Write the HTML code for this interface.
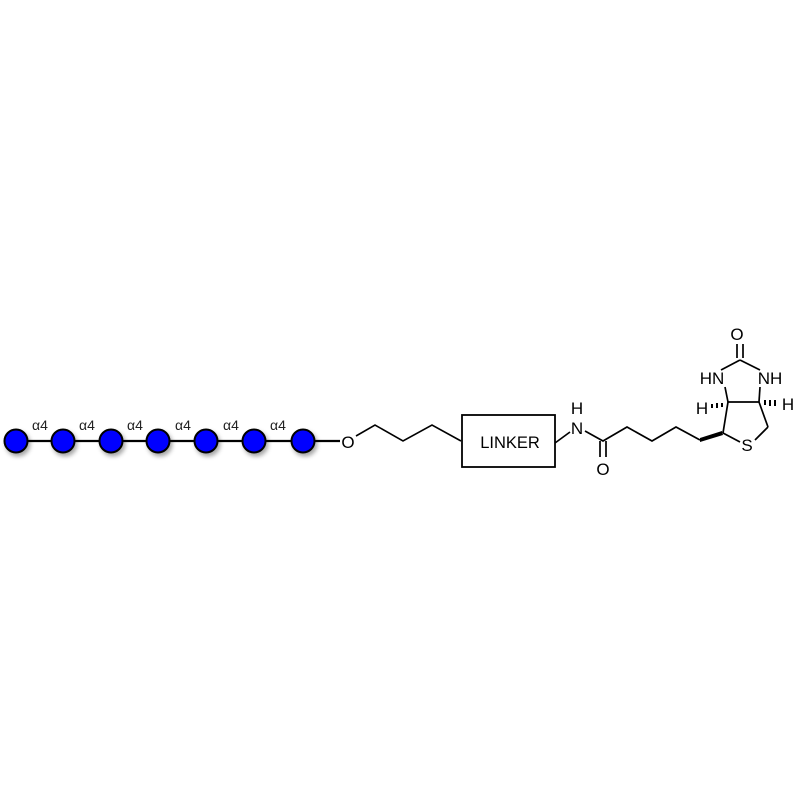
<!DOCTYPE html><html><head><style>body{margin:0;background:#fff}</style></head><body>
<svg width="800" height="800" xmlns="http://www.w3.org/2000/svg" font-family="Liberation Sans, sans-serif">
<defs><filter id="s" x="-50%" y="-50%" width="200%" height="200%"><feDropShadow dx="2" dy="3" stdDeviation="2" flood-color="#000" flood-opacity="0.35"/></filter></defs>
<g stroke="#000" stroke-width="2.2" fill="none">
<line x1="16" y1="441" x2="340" y2="441"/>
<polyline points="356,436 375,425 403,441 432,425 461,441" stroke-width="1.6"/>
<rect x="462" y="415" width="93" height="52" stroke-width="1.8"/>
</g>
<g fill="#0000ff" stroke="#000" stroke-width="2" filter="url(#s)">
<circle cx="16" cy="441" r="11.5"/><circle cx="63" cy="441" r="11.5"/><circle cx="111" cy="441" r="11.5"/><circle cx="158" cy="441" r="11.5"/><circle cx="206" cy="441" r="11.5"/><circle cx="254" cy="441" r="11.5"/><circle cx="303" cy="441" r="11.5"/>
</g>
<g font-size="14" fill="#222" text-anchor="middle">
<text x="40" y="430">α4</text><text x="87" y="430">α4</text><text x="135" y="430">α4</text><text x="183" y="430">α4</text><text x="231" y="430">α4</text><text x="278" y="430">α4</text>
</g>
<g font-size="17" text-anchor="middle" fill="#000">
<text x="348" y="448">O</text>
<text x="510" y="448" font-size="16.5">LINKER</text>
<text x="577" y="414">H</text><text x="577" y="434">N</text>
<text x="603" y="475">O</text>
<text x="737" y="340">O</text>
<text x="712" y="384">HN</text><text x="770" y="384">NH</text>
<text x="702" y="414">H</text><text x="788" y="410">H</text>
<text x="747" y="451">S</text>
</g>
<g stroke="#000" stroke-width="1.7" fill="none">
<line x1="555" y1="443" x2="570" y2="432"/>
<polyline points="585,431 603,441 627,427 652,441 676,427 700,440"/>
<line x1="600" y1="441" x2="600" y2="457"/><line x1="606" y1="441" x2="606" y2="457"/>
<line x1="737" y1="344" x2="737" y2="358"/><line x1="743" y1="344" x2="743" y2="358"/>
<line x1="740" y1="360" x2="721" y2="370"/><line x1="740" y1="360" x2="760" y2="370"/>
<line x1="725" y1="387" x2="728" y2="402"/><line x1="760" y1="387" x2="759" y2="402"/>
<line x1="728" y1="402" x2="759" y2="402"/>
<line x1="728" y1="402" x2="723" y2="433"/><line x1="759" y1="402" x2="768" y2="427"/>
<line x1="723" y1="433" x2="740" y2="442"/><line x1="768" y1="427" x2="755" y2="440"/>
</g>
<polygon points="700,438 700,442 723,435 722,431" fill="#000"/>
<g stroke="#000" stroke-width="2">
<line x1="712" y1="404" x2="712" y2="408"/><line x1="717" y1="403" x2="717" y2="408"/><line x1="722" y1="403" x2="722" y2="407"/>
<line x1="765" y1="400" x2="765" y2="405"/><line x1="770" y1="400" x2="770" y2="406"/><line x1="775" y1="400" x2="775" y2="406"/>
</g>
</svg></body></html>
